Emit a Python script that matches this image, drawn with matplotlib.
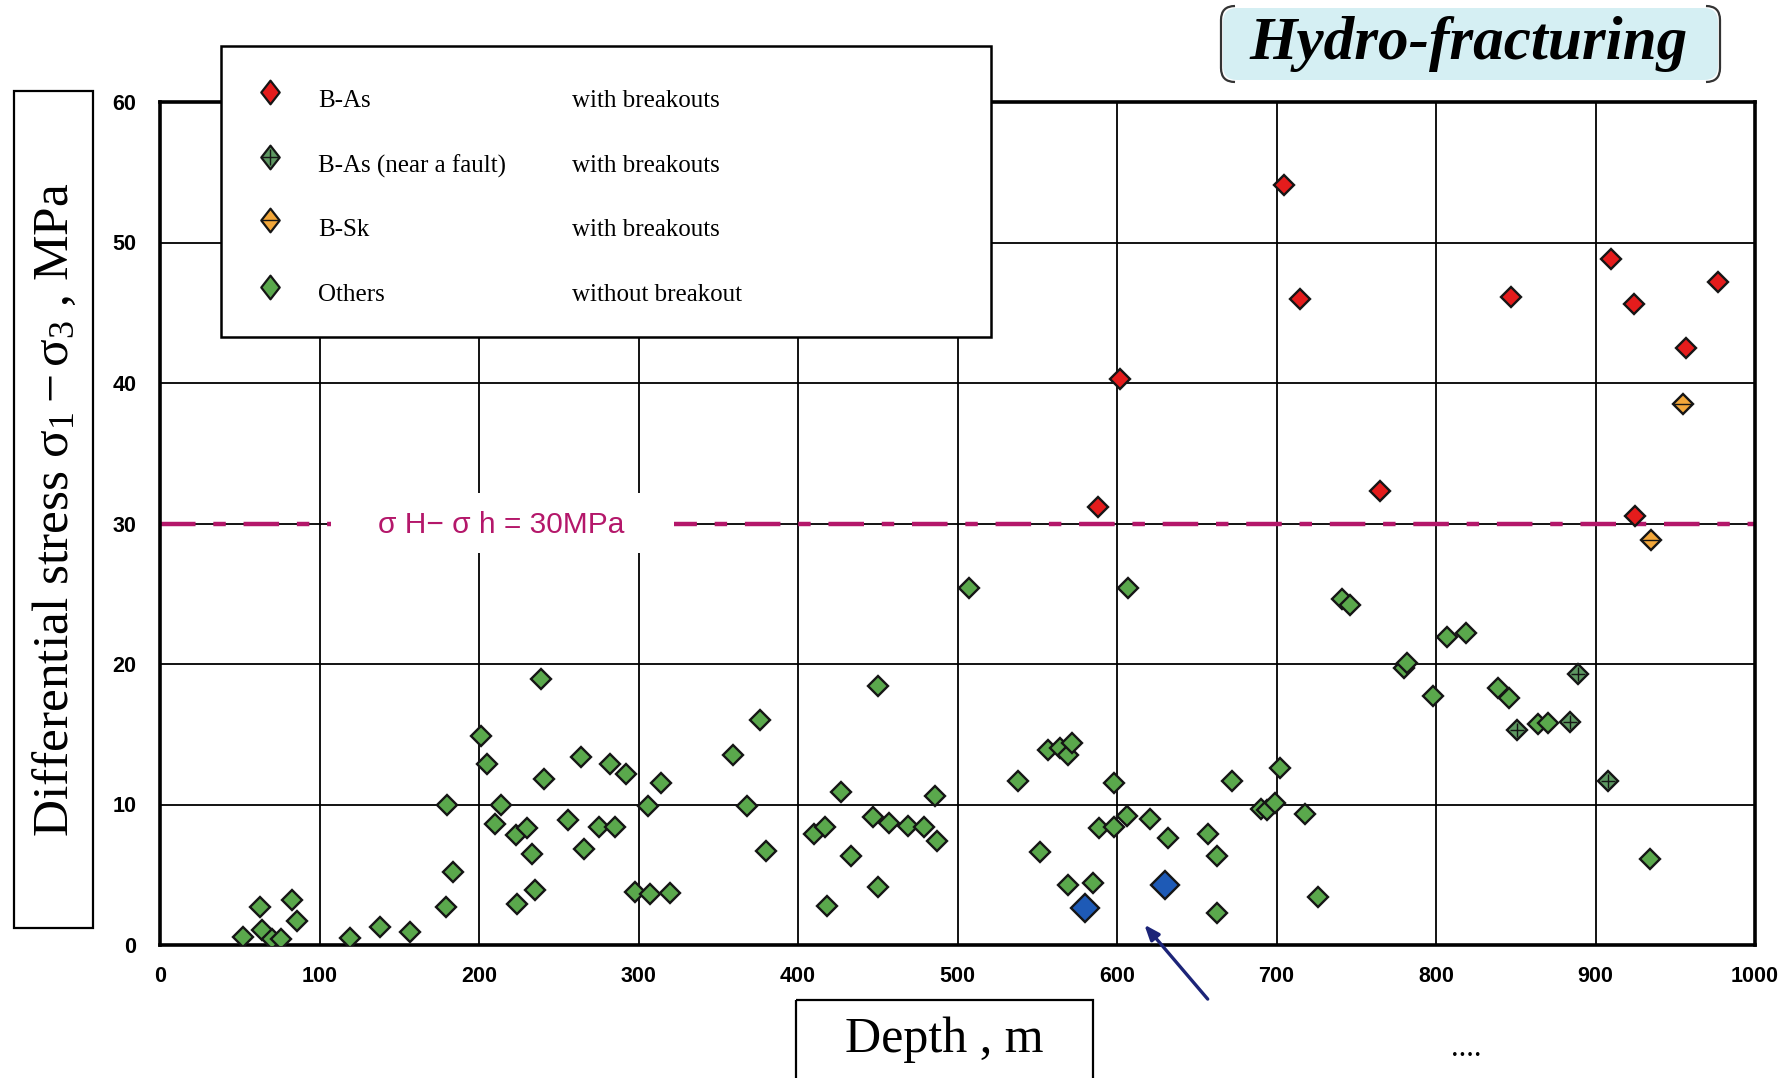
import matplotlib
matplotlib.use('Agg')
import matplotlib.pyplot as plt
from matplotlib.patches import Rectangle, FancyBboxPatch, PathPatch
from matplotlib.path import Path

plt.rcParams['font.family'] = ['Liberation Sans', 'DejaVu Sans']
plt.rcParams['mathtext.fontset'] = 'custom'
plt.rcParams['mathtext.rm'] = 'Liberation Serif'
plt.rcParams['mathtext.it'] = 'Liberation Serif:italic'
plt.rcParams['mathtext.bf'] = 'Liberation Serif:bold'

# ---- data (depth m, differential stress MPa) ----
bas_depth = [588, 602, 705, 715, 765, 847, 910, 924, 925, 957, 977]
bas_stress = [31.2, 40.3, 54.1, 46.0, 32.3, 46.1, 48.8, 45.6, 30.5, 42.5, 47.2]

fault_depth = [851, 884, 889, 908]
fault_stress = [15.3, 15.9, 19.3, 11.7]

bsk_depth = [935, 955]
bsk_stress = [28.8, 38.5]

blue_depth = [580, 630]
blue_stress = [2.6, 4.3]

other_depth = [52, 63, 64, 70, 76, 83, 86, 119, 138, 157, 179, 184, 180, 201, 205,
               239, 241, 214, 210, 223, 230, 264, 256, 233, 235, 224, 266, 275, 282,
               285, 292, 298, 307, 320, 306, 314,
               359, 376, 368, 380, 450, 427, 410, 417, 433, 450, 418, 447, 457, 469,
               479, 486, 487, 507, 538, 552, 557, 564, 569, 572, 569, 585, 589, 598,
               598, 606, 607, 621, 632, 657, 663, 663, 672, 690, 694, 699, 702,
               718, 726, 741, 746, 780, 782, 798, 807, 819, 839, 846, 864, 870, 934]
other_stress = [0.6, 2.7, 1.1, 0.4, 0.4, 3.2, 1.7, 0.5, 1.3, 0.9, 2.7, 5.2, 10.0, 14.9, 12.9,
                18.9, 11.8, 10.0, 8.6, 7.8, 8.3, 13.4, 8.9, 6.5, 3.9, 2.9, 6.8, 8.4, 12.9,
                8.4, 12.2, 3.8, 3.6, 3.7, 9.9, 11.5,
                13.5, 16.0, 9.9, 6.7, 18.4, 10.9, 7.9, 8.4, 6.3, 4.1, 2.8, 9.1, 8.7, 8.5,
                8.4, 10.6, 7.4, 25.4, 11.7, 6.6, 13.9, 14.0, 13.5, 14.4, 4.3, 4.4, 8.3, 8.4,
                11.5, 9.2, 25.4, 9.0, 7.6, 7.9, 6.3, 2.3, 11.7, 9.7, 9.6, 10.1, 12.6,
                9.3, 3.4, 24.6, 24.2, 19.7, 20.1, 17.7, 21.9, 22.2, 18.3, 17.6, 15.7, 15.8, 6.1]

x_ticks = list(range(0, 1001, 100))
y_ticks = list(range(0, 61, 10))
line_level = 30

legend_rows = [('B-As', 'with breakouts'),
               ('B-As (near a fault)', 'with breakouts'),
               ('B-Sk', 'with breakouts'),
               ('Others', 'without breakout')]

RED = '#e41c1c'
GREEN = '#5aa84c'
FAULT = '#5e9862'
ORANGE = '#f2a73a'
BLUE = '#1e5ab6'
MAG = '#b4176a'

W, H = 1786, 1078
fig = plt.figure(figsize=(W / 100, H / 100), dpi=100)

# main plot area (pixel box converted to figure fractions)
left, right, top, bottom = 160, 1755, 102, 945
ax = fig.add_axes([left / W, 1 - bottom / H, (right - left) / W, (bottom - top) / H])
ax.set_xlim(0, 1000)
ax.set_ylim(0, 60)
ax.set_xticks(x_ticks)
ax.set_yticks(y_ticks)
ax.grid(True, color='black', lw=1.3)
ax.set_axisbelow(True)
ax.tick_params(length=0, labelsize=15.5)
ax.tick_params(axis='x', pad=15)
ax.tick_params(axis='y', pad=17)
for lb in ax.get_xticklabels() + ax.get_yticklabels():
    lb.set_fontweight('bold')
for sp in ax.spines.values():
    sp.set_linewidth(2.6)

# sigmaH - sigmah = 30 MPa line, with a white gap for its label
ax.axhline(line_level, color=MAG, lw=3.2, dashes=(8, 4, 2.8, 4), zorder=2)
ax.add_patch(Rectangle((107, 27.9), 215, 4.3, fc='white', ec='none', zorder=2.5))
ax.text(214, line_level - 0.1, 'σ H− σ h = 30MPa', color=MAG, fontsize=21.5,
        ha='center', va='center', zorder=3)

mk = dict(ls='none', marker='D', ms=10.6, mec='#151515', mew=1.7, zorder=4)
ax.plot(other_depth, other_stress, mfc=GREEN, **mk)
ax.plot(fault_depth, fault_stress, mfc=FAULT, **mk)
ax.plot(fault_depth, fault_stress, ls='none', marker='+', ms=10, mec='#151515', mew=1.0, zorder=5)
ax.plot(bsk_depth, bsk_stress, mfc=ORANGE, **mk)
ax.plot(bsk_depth, bsk_stress, ls='none', marker='_', ms=13, mec='#151515', mew=1.0, zorder=5)
ax.plot(bas_depth, bas_stress, mfc=RED, **mk)
mk_big = dict(mk, ms=14.5)
ax.plot(blue_depth, blue_stress, mfc=BLUE, **mk_big)

# arrow pointing at the blue points
ax.annotate('', xy=(616, 1.6), xytext=(658, -4.0), annotation_clip=False,
            arrowprops=dict(arrowstyle='-|>,head_length=0.9,head_width=0.35',
                            color='#1c2478', lw=2.4))

# overlay in pixel coordinates for boxes, legend and title
ov = fig.add_axes([0, 0, 1, 1], zorder=5)
ov.set_xlim(0, W)
ov.set_ylim(H, 0)
ov.axis('off')

# legend
ov.add_patch(Rectangle((221, 46), 770, 291, fc='white', ec='black', lw=1.8))
leg_d = Path([(0, 1), (0.78, 0), (0, -1), (-0.78, 0), (0, 1)],
             [Path.MOVETO, Path.LINETO, Path.LINETO, Path.LINETO, Path.CLOSEPOLY])
row_y = [101, 166, 230, 295]
mark_y = [92, 157, 220, 287]
colors = [RED, FAULT, ORANGE, GREEN]
for (lab, desc), ty, my, c in zip(legend_rows, row_y, mark_y, colors):
    ov.plot(270, my, marker=leg_d, ms=17, mfc=c, mec='#151515', mew=1.6, ls='none')
    ov.text(318, ty, lab, fontsize=18, family='Liberation Serif', va='center')
    ov.text(572, ty, desc, fontsize=18, family='Liberation Serif', va='center')
ov.plot(270, mark_y[1], marker='+', ms=11, mec='#151515', mew=1.0)
ov.plot(270, mark_y[2], marker='_', ms=13, mec='#151515', mew=1.0)

# title box with bracket edges
ov.add_patch(FancyBboxPatch((1223, 8), 495, 72, boxstyle='round,pad=0,rounding_size=14',
                            fc='#d5eff3', ec='none'))
r = 14
lb = Path([(1221 + r, 6), (1221, 6), (1221, 6 + r), (1221, 82 - r), (1221, 82), (1221 + r, 82)],
          [Path.MOVETO, Path.CURVE3, Path.CURVE3, Path.LINETO, Path.CURVE3, Path.CURVE3])
rb = Path([(1720 - r, 6), (1720, 6), (1720, 6 + r), (1720, 82 - r), (1720, 82), (1720 - r, 82)],
          [Path.MOVETO, Path.CURVE3, Path.CURVE3, Path.LINETO, Path.CURVE3, Path.CURVE3])
for p in (lb, rb):
    ov.add_patch(PathPatch(p, fc='none', ec='#333333', lw=1.6))
ov.text(1469, 44, 'Hydro-fracturing', fontsize=44, family='Liberation Serif',
        style='italic', weight='bold', ha='center', va='center')

# y label box
ov.add_patch(Rectangle((14, 91), 79, 837, fc='none', ec='black', lw=1.6))
ov.text(55, 510, r'Differential stress $\mathrm{\sigma}_1 - \mathrm{\sigma}_3$ , MPa',
        fontsize=37, family='Liberation Serif', rotation=90, ha='center', va='center')

# x label box
ov.add_patch(Rectangle((796, 1000), 297, 100, fc='none', ec='black', lw=1.6))
ov.text(944, 1040, 'Depth , m', fontsize=36, family='Liberation Serif', ha='center', va='center')

ov.text(1466, 1048, '....', fontsize=22, family='Liberation Serif', ha='center', va='center')

fig.savefig('out.png', dpi=100)
